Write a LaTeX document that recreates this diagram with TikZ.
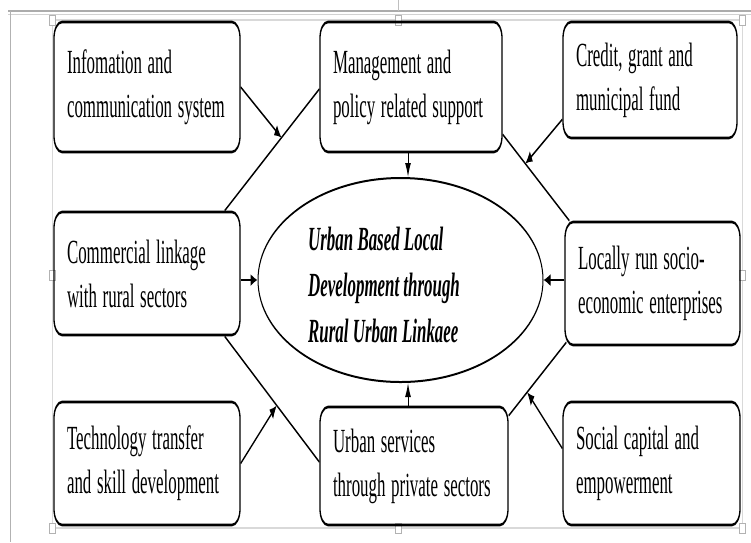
\documentclass[tikz,border=0pt]{standalone}
\usepackage{fontspec}
\setmainfont{Liberation Serif}
\usetikzlibrary{shapes.geometric,calc,arrows.meta}
\tikzset{
  bx/.style={draw, line width=1.3pt, rounded corners=8pt, align=left,
    inner xsep=13pt, inner ysep=0pt, font=\fontsize{16.9pt}{22pt}\selectfont},
  ln/.style={draw, line width=1pt},
  arr/.style={draw, line width=1pt, -{Latex[length=7pt,width=6pt]}},
  framel/.style={draw=gray!60, line width=0.9pt},
  handle/.style={draw=gray!60, fill=white, line width=0.5pt},
}
\begin{document}
\begin{tikzpicture}
\useasboundingbox (0,0) rectangle (751pt,-542pt);
\begin{scope}[transform canvas={yscale=2}, x=1pt, y=-0.5pt]
  % frame of the screenshot
  \draw[draw=gray!65, line width=1.1pt] (8,11) -- (751,11);
  \draw[draw=gray!35, line width=0.8pt] (8,14.5) -- (751,14.5);
  \draw[framel] (10,11) -- (10,542);
  \draw[draw=gray!30, line width=0.6pt] (52,20) rectangle (742,528);
  \draw[draw=gray!50, line width=0.6pt] (398,0) -- (398,11);
  \foreach \hx/\hy in {52/20,398/20,742/20,52/275,742/275,52/528,398/528,742/528}
    \draw[handle] ($(\hx,\hy)+(-3,-5)$) rectangle +(6,10);

  % boxes
  \node[bx, text width=160pt, minimum height=65pt] (i) at (147,87)
    {Infomation and\\communication system};
  \node[bx, text width=156pt, minimum height=65pt] (m) at (411,87)
    {Management and\\policy related support};
  \node[bx, text width=148pt, minimum height=58pt] (k) at (650,80)
    {Credit, grant and\\municipal fund};
  \node[bx, text width=160pt, minimum height=61.5pt] (c) at (147,273.5)
    {Commercial linkage\\with rural sectors};
  \node[bx, text width=149pt, minimum height=61.5pt] (l) at (652.5,283.5)
    {Locally run socio-\\economic enterprises};
  \node[bx, text width=160pt, minimum height=61.5pt] (t) at (147,463.5)
    {Technology transfer\\and skill development};
  \node[bx, text width=162pt, minimum height=59pt] (u) at (414,466)
    {Urban services\\through private sectors};
  \node[bx, text width=151pt, minimum height=61.5pt] (s) at (651.5,463.5)
    {Social capital and\\empowerment};

  % central ellipse
  \node[ellipse, draw, line width=1pt, minimum width=285pt, minimum height=102pt,
        inner sep=0pt] (core) at (400.5,280) {};
  \node[anchor=north west, inner sep=0pt, align=left,
        font=\fontsize{16.9pt}{23pt}\selectfont\bfseries\itshape] (coretext) at (308,227)
    {Urban Based Local\\Development through\\Rural Urban Linkaee};

  % direct arrows into the ellipse
  \coordinate (ax) at (408,0);
  \draw[arr] (m.south -| ax) -- (core.north -| ax);
  \draw[arr] (u.north -| ax) -- (core.south -| ax);
  \draw[arr] (c.east |- core.west) -- (core.west);
  \draw[arr] (l.west |- core.east) -- (core.east);

  % hexagon lines
  \coordinate (p1) at ($(c.north east)+(-16,0)$);
  \coordinate (q1) at ($(m.west)+(0,2)$);
  \coordinate (p2) at ($(m.south east)+(0,-19)$);
  \coordinate (q2) at ($(l.north west)+(5,0)$);
  \coordinate (p3) at ($(c.south east)+(-16,0)$);
  \coordinate (q3) at ($(u.west)+(0,-4)$);
  \coordinate (p4) at ($(u.north east)+(0,10)$);
  \coordinate (q4) at ($(l.south west)+(2,-4)$);
  \draw[ln] (p1) -- (q1);
  \draw[ln] (p2) -- (q2);
  \draw[ln] (p3) -- (q3);
  \draw[ln] (p4) -- (q4);

  % arrows onto the hexagon lines
  \coordinate (j1) at ($(p1)!0.6!(q1)$);
  \coordinate (j2) at ($(p2)!0.34!(q2)$);
  \coordinate (j3) at ($(p3)!0.55!(q3)$);
  \coordinate (j4) at ($(p4)!0.32!(q4)$);
  \draw[arr] (i.east) -- (j1);
  \draw[arr] ($(k.south west)+(0,-20)$) -- (j2);
  \draw[arr] (t.east) -- (j3);
  \draw[arr] ($(s.west)+(0,-15)$) -- (j4);
\end{scope}
\end{tikzpicture}
\end{document}
